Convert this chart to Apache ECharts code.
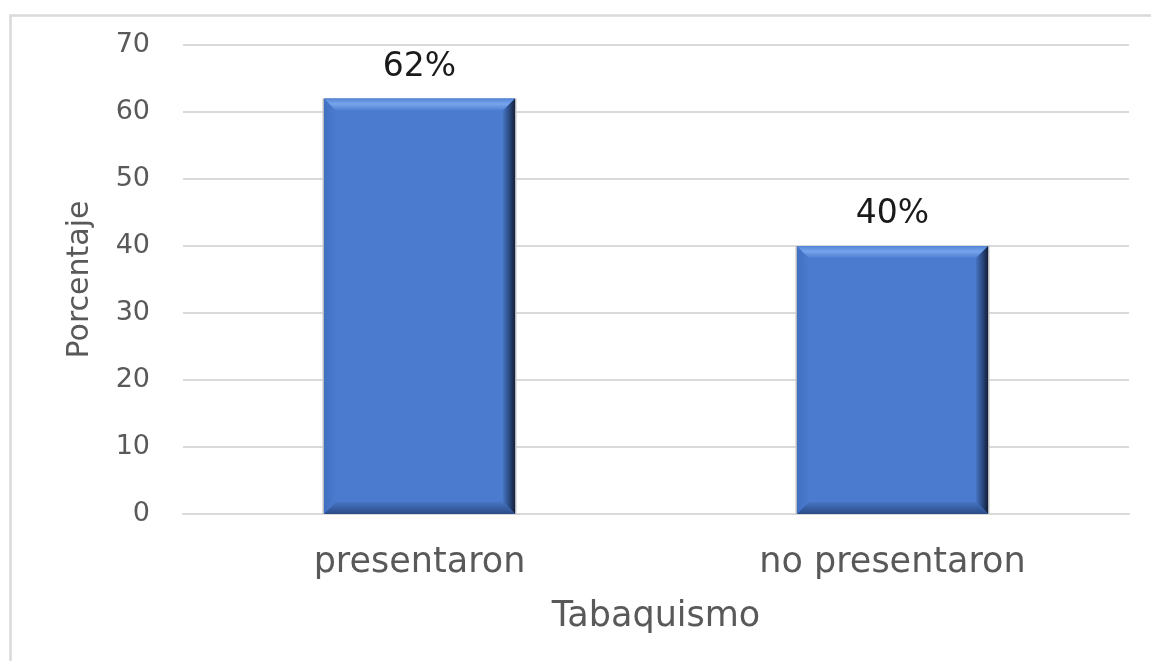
<!DOCTYPE html>
<html>
<head>
<meta charset="utf-8">
<script src="https://cdn.jsdelivr.net/npm/echarts@6/dist/echarts.min.js"></script>
<style>
html,body{margin:0;padding:0;background:#fff;}
#main{width:1151px;height:661px;}
</style>
</head>
<body>
<div id="main"></div>
<script>
var categories = ['presentaron', 'no presentaron'];
var values = [62, 40];
var valueLabels = ['62%', '40%'];
var yTicks = [0, 10, 20, 30, 40, 50, 60, 70];

var chart = echarts.init(document.getElementById('main'));

function renderBar(params, api) {
  var idx = api.value(0);
  var val = api.value(1);
  var top = api.coord([idx, val]);
  var bot = api.coord([idx, 0]);
  var band = api.size([1, 0])[0];
  var w = band * 0.404;
  var x0 = top[0] - w / 2, x1 = top[0] + w / 2;
  var y0 = top[1], y1 = bot[1];
  var b = 12;
  return {
    type: 'group',
    children: [
      { type: 'rect', shape: { x: x0 - 1.5, y: y0, width: w + 3, height: y1 - y0 },
        style: { fill: '#c4c4c4' } },
      { type: 'rect', shape: { x: x0, y: y0, width: w, height: y1 - y0 },
        style: { fill: '#4a7bcf' } },
      { type: 'polygon', shape: { points: [[x0, y0], [x0 + b, y0 + b], [x0 + b, y1 - b], [x0, y1]] },
        style: { fill: new echarts.graphic.LinearGradient(0, 0, 1, 0, [
          { offset: 0, color: '#4170c0' }, { offset: 1, color: '#4a7bcf' }]) } },
      { type: 'polygon', shape: { points: [[x0, y0], [x1, y0], [x1 - b, y0 + b], [x0 + b, y0 + b]] },
        style: { fill: new echarts.graphic.LinearGradient(0, 0, 0, 1, [
          { offset: 0, color: '#5585d6' }, { offset: 0.45, color: '#77a4ec' }, { offset: 1, color: '#4d7ed0' }]) } },
      { type: 'polygon', shape: { points: [[x1, y0], [x1, y1], [x1 - b, y1 - b], [x1 - b, y0 + b]] },
        style: { fill: new echarts.graphic.LinearGradient(0, 0, 1, 0, [
          { offset: 0, color: '#4673bf' }, { offset: 0.5, color: '#2c4c85' }, { offset: 1, color: '#141f38' }]) } },
      { type: 'polygon', shape: { points: [[x0, y1], [x1, y1], [x1 - b, y1 - b], [x0 + b, y1 - b]] },
        style: { fill: new echarts.graphic.LinearGradient(0, 0, 0, 1, [
          { offset: 0, color: '#4674c2' }, { offset: 1, color: '#2a4a86' }]) } },
      { type: 'text', x: top[0], y: y0 - 15,
        style: { text: valueLabels[idx], fill: '#1a1a1a', font: '33px "DejaVu Sans"',
          align: 'center', verticalAlign: 'bottom' } }
    ]
  };
}

chart.setOption({
  animation: false,
  backgroundColor: '#ffffff',
  graphic: [{
    type: 'rect', left: 8, top: 13, z: -1,
    shape: { width: 1200, height: 700 },
    style: { fill: 'none', stroke: '#d9d9d9', lineWidth: 2.5 }
  }],
  grid: { left: 183, right: 22, top: 45, bottom: 147 },
  xAxis: {
    type: 'category',
    data: categories,
    name: 'Tabaquismo',
    nameLocation: 'middle',
    nameGap: 85,
    nameTextStyle: { color: '#595959', fontSize: 35, fontFamily: 'DejaVu Sans' },
    axisLine: { show: true, lineStyle: { color: '#d9d9d9', width: 2 } },
    axisTick: { show: false },
    axisLabel: { color: '#595959', fontSize: 35, fontFamily: 'DejaVu Sans', margin: 31 }
  },
  yAxis: {
    type: 'value',
    min: yTicks[0],
    max: yTicks[yTicks.length - 1],
    interval: 10,
    name: 'Porcentaje',
    nameLocation: 'middle',
    nameRotate: 90,
    nameGap: 88,
    nameTextStyle: { color: '#595959', fontSize: 30, fontFamily: 'DejaVu Sans' },
    axisLine: { show: false },
    axisTick: { show: false },
    axisLabel: { color: '#595959', fontSize: 27, fontFamily: 'DejaVu Sans', margin: 33 },
    splitLine: { lineStyle: { color: '#d9d9d9', width: 2 } }
  },
  series: [{
    type: 'custom',
    renderItem: renderBar,
    encode: { x: 0, y: 1 },
    data: values.map(function (v, i) { return [i, v]; }),
    clip: false
  }]
});
</script>
</body>
</html>
